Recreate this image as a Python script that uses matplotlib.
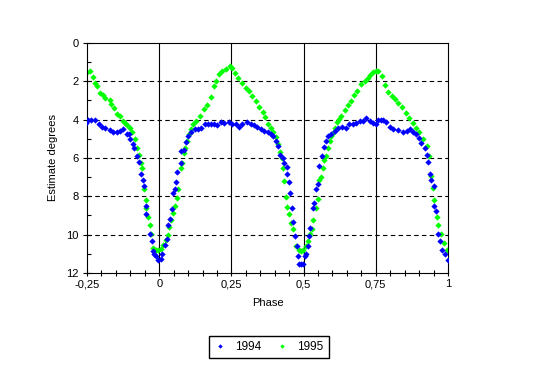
import numpy as np
import matplotlib
matplotlib.use("Agg")
import matplotlib.pyplot as plt
from matplotlib.ticker import MultipleLocator, FuncFormatter

plt.rcParams['font.family'] = ['Liberation Sans', 'DejaVu Sans']

# 1994 series (phase, estimate)
phase_1994 = [-0.253, -0.245, -0.235, -0.222, -0.21, -0.198, -0.187, -0.172, -0.159, -0.147,
              -0.136, -0.124, -0.113, -0.103, -0.101, -0.092, -0.086, -0.078, -0.07, -0.064,
              -0.057, -0.052, -0.047, -0.044, -0.032, -0.026, -0.023, -0.018, -0.011, -0.003,
              0.005, 0.011, 0.02, 0.028, 0.031, 0.037, 0.043, 0.048, 0.054, 0.057,
              0.063, 0.074, 0.077, 0.085, 0.092, 0.1, 0.111, 0.123, 0.134, 0.146,
              0.157, 0.169, 0.18, 0.19, 0.201, 0.213, 0.225, 0.242, 0.253, 0.265,
              0.277, 0.288, 0.303, 0.317, 0.329, 0.34, 0.352, 0.363, 0.375, 0.387,
              0.395, 0.404, 0.413, 0.418, 0.427, 0.433, 0.441, 0.444, 0.448, 0.453,
              0.459, 0.465, 0.471, 0.476, 0.479, 0.485, 0.491, 0.497, 0.506, 0.508,
              0.514, 0.52, 0.523, 0.531, 0.537, 0.543, 0.549, 0.555, 0.563, 0.572,
              0.578, 0.584, 0.595, 0.607, 0.619, 0.633, 0.648, 0.657, 0.671, 0.683,
              0.694, 0.706, 0.717, 0.729, 0.741, 0.752, 0.758, 0.767, 0.776, 0.787,
              0.799, 0.81, 0.828, 0.845, 0.857, 0.869, 0.88, 0.888, 0.898, 0.907,
              0.919, 0.927, 0.93, 0.938, 0.942, 0.95, 0.953, 0.958, 0.967, 0.973,
              0.979, 0.988, 1.0]
est_1994 = [4.2, 4.01, 4.01, 4.01, 4.22, 4.39, 4.46, 4.55, 4.64, 4.64,
            4.57, 4.51, 4.74, 4.74, 5.03, 5.26, 5.47, 5.9, 6.2, 6.86,
            7.17, 7.47, 8.5, 8.94, 9.98, 10.33, 10.85, 10.99, 11.11, 11.34,
            11.25, 10.99, 10.54, 10.24, 9.5, 9.2, 8.68, 7.81, 7.64, 7.24,
            6.72, 6.25, 5.64, 5.56, 5.16, 4.86, 4.64, 4.51, 4.51, 4.43,
            4.25, 4.22, 4.25, 4.22, 4.3, 4.13, 4.18, 4.11, 4.25, 4.22,
            4.39, 4.22, 4.11, 4.22, 4.29, 4.39, 4.51, 4.6, 4.65, 4.74,
            4.86, 5.09, 5.38, 5.82, 5.99, 6.25, 6.48, 6.86, 7.24, 7.81,
            8.63, 9.32, 10.07, 10.59, 11.11, 11.51, 11.51, 11.51, 11.11, 10.99,
            10.59, 10.07, 9.67, 8.6, 8.33, 7.64, 7.38, 6.42, 5.9, 5.43,
            5.12, 4.86, 4.74, 4.57, 4.43, 4.39, 4.46, 4.25, 4.22, 4.17,
            4.05, 4.05, 3.94, 4.05, 4.17, 4.22, 4.01, 4.01, 4.01, 4.11,
            4.39, 4.48, 4.55, 4.64, 4.57, 4.51, 4.64, 4.77, 4.98, 5.21,
            5.47, 5.82, 6.2, 6.86, 7.17, 7.47, 8.5, 8.77, 9.98, 10.33,
            10.82, 11.02, 11.34]

# 1995 series (phase, estimate)
phase_1995 = [-0.25, -0.24, -0.228, -0.222, -0.214, -0.205, -0.196, -0.187, -0.172, -0.168,
              -0.155, -0.145, -0.136, -0.126, -0.118, -0.11, -0.101, -0.095, -0.084, -0.076,
              -0.069, -0.063, -0.059, -0.052, -0.047, -0.044, -0.038, -0.032, -0.028, -0.021,
              -0.011, -0.003, 0.006, 0.014, 0.023, 0.029, 0.034, 0.04, 0.048, 0.056,
              0.06, 0.066, 0.074, 0.078, 0.085, 0.089, 0.097, 0.103, 0.111, 0.117,
              0.129, 0.14, 0.154, 0.167, 0.178, 0.19, 0.198, 0.207, 0.219, 0.23,
              0.244, 0.253, 0.263, 0.274, 0.286, 0.3, 0.311, 0.32, 0.334, 0.346,
              0.358, 0.367, 0.378, 0.387, 0.395, 0.404, 0.411, 0.419, 0.425, 0.429,
              0.433, 0.439, 0.444, 0.45, 0.456, 0.464, 0.473, 0.485, 0.492, 0.499,
              0.508, 0.514, 0.522, 0.529, 0.534, 0.543, 0.549, 0.555, 0.56, 0.566,
              0.572, 0.578, 0.584, 0.59, 0.595, 0.601, 0.607, 0.615, 0.624, 0.63,
              0.642, 0.653, 0.665, 0.673, 0.686, 0.7, 0.712, 0.723, 0.731, 0.741,
              0.75, 0.758, 0.77, 0.781, 0.793, 0.805, 0.816, 0.828, 0.842, 0.853,
              0.865, 0.878, 0.888, 0.901, 0.915, 0.927, 0.933, 0.941, 0.948, 0.952,
              0.962, 0.967, 0.977, 0.985, 0.997]
est_1995 = [1.51, 1.48, 1.77, 2.08, 2.26, 2.6, 2.69, 2.86, 3.0, 3.16,
            3.39, 3.68, 3.82, 4.05, 4.17, 4.29, 4.46, 4.65, 5.0, 5.47,
            5.82, 6.25, 6.51, 7.6, 8.2, 8.6, 9.06, 9.5, 9.95, 10.68,
            10.82, 10.82, 10.76, 10.54, 10.3, 10.03, 9.6, 9.25, 8.85, 8.5,
            8.07, 7.64, 6.5, 6.25, 5.73, 5.47, 5.09, 4.77, 4.51, 4.25,
            4.08, 3.82, 3.47, 3.21, 2.83, 2.26, 1.96, 1.61, 1.44, 1.35,
            1.22, 1.3, 1.56, 1.82, 2.08, 2.34, 2.52, 2.78, 3.04, 3.35,
            3.59, 3.87, 4.22, 4.43, 4.64, 4.91, 5.26, 5.68, 6.02, 6.51,
            7.2, 8.04, 8.56, 8.94, 9.38, 9.69, 10.59, 10.82, 10.85, 10.82,
            10.59, 10.33, 9.98, 9.72, 9.25, 8.6, 8.16, 7.17, 7.0, 6.51,
            6.13, 5.9, 5.47, 5.12, 4.86, 4.69, 4.43, 4.11, 3.99, 3.82,
            3.52, 3.21, 3.04, 2.69, 2.52, 2.14, 2.0, 1.82, 1.65, 1.51,
            1.48, 1.48, 1.74, 2.17, 2.55, 2.78, 2.9, 3.13, 3.35, 3.65,
            3.91, 4.17, 4.43, 4.64, 5.0, 5.38, 5.9, 6.94, 7.59, 8.21,
            9.08, 9.5, 9.98, 10.42, 10.82]

fig = plt.figure(figsize=(5.42, 3.68), dpi=100)
ax = fig.add_axes([0.1605, 0.2582, 0.6661, 0.625])

for yv in [2, 4, 6, 8, 10]:
    ax.axhline(yv, color='black', linestyle=(0, (4, 3)), linewidth=0.8, zorder=1)
for xv in [0, 0.25, 0.5, 0.75]:
    ax.axvline(xv, color='black', linewidth=0.8, zorder=1)

ax.plot(phase_1994, est_1994, linestyle='none', marker='D', ms=3.2,
        color='#0000ff', mec='none', label='1994', zorder=3)
ax.plot(phase_1995, est_1995, linestyle='none', marker='D', ms=3.2,
        color='#00ff00', mec='none', label='1995', zorder=2)

ax.set_xlim(-0.25, 1)
ax.set_ylim(12, 0)
ax.xaxis.set_major_locator(MultipleLocator(0.25))
ax.xaxis.set_minor_locator(MultipleLocator(0.05))
ax.yaxis.set_major_locator(MultipleLocator(2))
ax.yaxis.set_minor_locator(MultipleLocator(1))
ax.xaxis.set_major_formatter(FuncFormatter(lambda v, p: ('%g' % round(v, 2)).replace('.', ',')))

ax.tick_params(axis='x', which='both', direction='inout', length=5, width=0.8,
               labelsize=8, pad=2)
ax.tick_params(axis='y', which='major', direction='inout', length=6, width=0.8,
               labelsize=8, pad=3)
ax.tick_params(axis='y', which='minor', direction='in', length=3, width=0.8)
for sp in ax.spines.values():
    sp.set_linewidth(0.8)

ax.set_xlabel('Phase', fontsize=8, labelpad=6)
ax.set_ylabel('Estimate degrees', fontsize=8, labelpad=6)

fig.legend(loc='center', bbox_to_anchor=(0.496, 0.057), ncol=2, fontsize=8.5,
           frameon=True, fancybox=False, edgecolor='black', framealpha=1,
           handlelength=1.0, handletextpad=0.8, columnspacing=1.2,
           markerscale=0.7, borderpad=0.45)

fig.savefig('out.png', dpi=100)
